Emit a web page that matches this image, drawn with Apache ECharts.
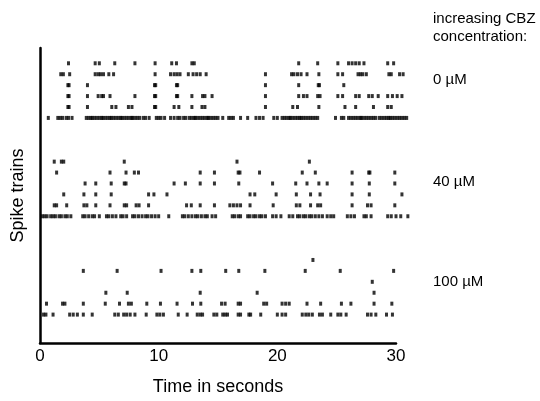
<!DOCTYPE html>
<html>
<head>
<meta charset="utf-8">
<script src="https://cdn.jsdelivr.net/npm/echarts@6/dist/echarts.min.js"></script>
<style>html,body{margin:0;padding:0;background:#fff}#c{width:540px;height:401px}</style>
</head>
<body>
<div id="c"></div>
<script>
// Spike times in seconds, rows listed top to bottom within each group
const concentrations = ['0 µM', '40 µM', '100 µM'];
const xTicks = [0, 10, 20, 30];

const trains0uM = [
  [2.4, 4.65, 5.0, 6.3, 8.0, 9.7, 11.1, 11.5, 12.8, 13.0, 21.8, 23.4, 25.1, 26.0, 26.3, 26.6, 26.9, 27.3, 29.3, 29.8],
  [1.75, 1.97, 2.5, 4.65, 4.9, 5.1, 5.35, 5.8, 6.2, 9.7, 11.0, 11.3, 11.55, 11.8, 12.5, 12.9, 13.2, 13.5, 14.0, 19.0, 21.2, 21.4, 21.7, 22.0, 22.5, 23.5, 25.1, 25.5, 26.8, 27.0, 27.2, 27.5, 29.4, 29.6, 30.3, 30.6],
  [2.35, 2.45, 4.0, 9.65, 9.75, 11.5, 11.6, 19.0, 21.8, 23.45, 23.55, 25.6],
  [2.35, 2.45, 4.0, 4.9, 5.2, 5.35, 5.9, 8.0, 9.65, 9.75, 11.5, 11.6, 12.8, 13.7, 13.9, 14.5, 19.0, 21.8, 22.2, 22.5, 23.4, 23.6, 25.1, 25.5, 26.6, 26.9, 27.7, 28.0, 28.5, 29.3, 29.7, 30.1, 30.5],
  [2.35, 2.45, 4.0, 6.05, 6.4, 7.45, 7.75, 9.65, 9.75, 11.3, 11.7, 12.8, 13.65, 13.9, 19.0, 21.3, 21.7, 23.5, 25.7, 26.6, 28.1, 29.3, 29.6],
  [0.7, 1.5, 1.7, 1.9, 2.2, 2.4, 2.7, 3.9, 4.1, 4.3, 4.4, 4.6, 4.8, 5.0, 5.2, 5.3, 5.5, 5.7, 5.9, 6.0, 6.2, 6.4, 6.6, 6.8, 6.9, 7.1, 7.3, 7.5, 7.7, 7.8, 8.0, 8.2, 8.4, 8.7, 8.9, 9.2, 9.8, 10.0, 10.2, 10.5, 11.0, 11.3, 11.6, 11.8, 12.1, 12.3, 12.6, 12.8, 13.0, 13.1, 13.3, 13.5, 13.7, 13.9, 14.1, 14.2, 14.4, 14.6, 14.8, 15.0, 15.4, 15.9, 16.1, 16.3, 16.9, 17.5, 18.2, 18.5, 18.8, 19.7, 20.0, 20.4, 20.6, 20.8, 21.0, 21.1, 21.3, 21.5, 21.7, 21.9, 22.0, 22.2, 22.4, 22.6, 22.8, 23.0, 23.2, 23.4, 24.9, 25.4, 25.6, 26.0, 26.2, 26.4, 26.6, 26.8, 27.0, 27.1, 27.3, 27.5, 27.7, 27.9, 28.1, 28.3, 28.6, 28.8, 29.0, 29.2, 29.4, 29.5, 29.7, 29.9, 30.1, 30.3, 30.5, 30.7, 30.9]
];

const trains40uM = [
  [1.2, 1.8, 2.0, 7.1, 16.6, 22.7],
  [1.4, 5.9, 7.25, 7.95, 8.3, 13.5, 14.7, 16.7, 16.85, 18.5, 22.1, 23.2, 26.3, 27.7, 27.8, 29.9],
  [3.8, 4.7, 6.0, 7.1, 7.25, 11.3, 12.25, 13.5, 14.7, 16.75, 19.6, 21.55, 22.5, 23.5, 24.2, 26.3, 27.75, 29.9],
  [2.0, 3.7, 4.7, 6.0, 9.15, 9.6, 10.7, 17.7, 18.1, 19.9, 21.6, 22.8, 23.6, 26.3, 27.75, 30.5],
  [1.2, 1.4, 2.25, 3.7, 3.95, 4.7, 5.9, 7.1, 7.3, 8.1, 8.35, 9.15, 12.35, 12.75, 13.5, 14.7, 16.0, 16.3, 16.6, 16.9, 17.7, 19.65, 21.6, 21.9, 22.8, 23.4, 23.65, 26.3, 27.6, 27.9, 29.9],
  [0.2, 0.4, 0.6, 0.9, 1.1, 1.3, 1.6, 1.8, 2.1, 2.3, 2.6, 3.6, 3.8, 4.1, 4.4, 4.6, 5.0, 5.6, 5.8, 6.1, 6.4, 6.8, 7.0, 7.3, 7.8, 8.0, 8.3, 8.6, 8.9, 9.1, 9.4, 9.7, 10.0, 10.85, 12.0, 12.2, 12.5, 12.8, 13.1, 13.3, 13.6, 13.9, 14.1, 14.5, 14.8, 16.2, 16.4, 16.7, 16.9, 17.5, 17.7, 18.0, 18.2, 18.5, 18.7, 19.0, 19.6, 19.9, 20.3, 21.0, 21.3, 21.7, 21.9, 22.2, 22.4, 22.7, 22.9, 23.2, 23.5, 23.8, 24.2, 24.5, 24.75, 25.9, 26.2, 26.5, 27.3, 27.5, 27.9, 29.3, 29.6, 30.0, 30.4, 31.0]
];

const trains100uM = [
  [23.0],
  [3.65, 6.5, 10.2, 12.8, 13.55, 15.65, 16.75, 18.95, 22.35, 25.3, 29.8],
  [28.0],
  [5.55, 7.35, 13.5, 18.3, 28.15],
  [0.55, 1.9, 2.1, 3.65, 5.5, 6.7, 7.45, 7.7, 9.0, 10.15, 11.55, 12.85, 13.55, 15.3, 15.6, 16.7, 16.9, 18.85, 19.1, 20.4, 20.7, 21.0, 22.5, 23.65, 25.4, 26.2, 28.15, 29.65],
  [0.3, 0.5, 1.1, 2.5, 2.8, 3.15, 3.65, 4.4, 6.3, 6.6, 7.05, 7.3, 7.6, 8.0, 8.95, 9.85, 10.1, 10.4, 11.65, 12.4, 13.25, 13.5, 13.7, 14.65, 14.9, 15.4, 15.6, 15.8, 16.7, 16.9, 17.6, 17.75, 18.6, 20.0, 20.4, 20.7, 22.1, 22.4, 22.65, 22.95, 23.55, 23.8, 24.5, 25.1, 25.35, 25.8, 27.6, 27.9, 28.3, 29.2, 29.7]
];

const groups = [trains0uM, trains40uM, trains100uM];
// row index: bottom row of lowest group = 0, 6 rows per group, 3-row gap between groups
const points = [];
groups.forEach((g, gi) => {
  const base = (groups.length - 1 - gi) * 9;
  g.forEach((row, ri) => {
    const y = base + (g.length - 1 - ri);
    row.forEach(t => points.push([t, y]));
  });
});

const chart = echarts.init(document.getElementById('c'), null, {renderer: 'canvas'});
const font = 'Liberation Sans, Arial, sans-serif';
chart.setOption({
  animation: false,
  backgroundColor: '#fff',
  grid: {left: 40, right: 144, top: 48, bottom: 55},
  xAxis: {
    type: 'value', min: 0, max: 30, interval: 10,
    axisLine: {show: true, onZero: false, lineStyle: {color: '#000', width: 2.5}},
    axisTick: {show: false},
    splitLine: {show: false},
    axisLabel: {color: '#000', fontSize: 17, fontFamily: font, margin: 5,
      formatter: v => xTicks.includes(v) ? String(v) : ''},
    name: 'Time in seconds', nameLocation: 'middle', nameGap: 35,
    nameTextStyle: {color: '#000', fontSize: 18, fontFamily: font}
  },
  yAxis: {
    type: 'value', min: -2.6, max: 24.4,
    axisLine: {show: true, onZero: false, lineStyle: {color: '#000', width: 2.5}},
    axisTick: {show: false},
    axisLabel: {show: false},
    splitLine: {show: false},
    name: 'Spike trains', nameLocation: 'middle', nameGap: 13,
    nameTextStyle: {color: '#000', fontSize: 18, fontFamily: font}
  },
  series: [{
    type: 'scatter',
    data: points,
    clip: false,
    symbol: 'rect',
    symbolSize: [3, 4],
    itemStyle: {color: '#000'}
  }],
  graphic: [
    {type: 'text', left: 433, top: 10, style: {text: 'increasing CBZ\nconcentration:', fill: '#000', font: '15px ' + font, lineHeight: 18}},
    {type: 'text', left: 433, top: 72, style: {text: concentrations[0], fill: '#000', font: '15px ' + font}},
    {type: 'text', left: 433, top: 174, style: {text: concentrations[1], fill: '#000', font: '15px ' + font}},
    {type: 'text', left: 433, top: 274, style: {text: concentrations[2], fill: '#000', font: '15px ' + font}}
  ]
});
</script>
</body>
</html>
